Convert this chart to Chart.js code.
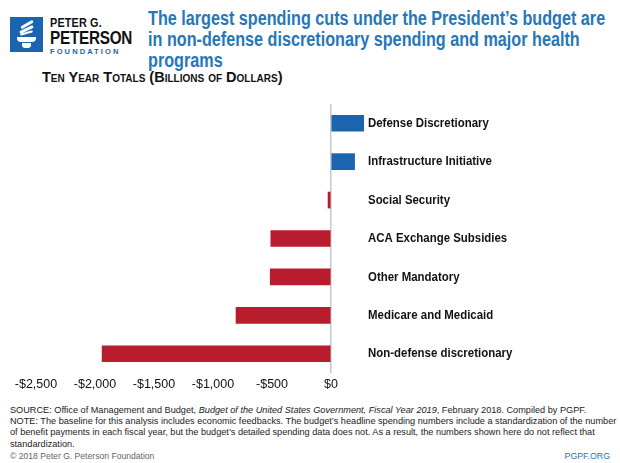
<!DOCTYPE html>
<html><head><meta charset="utf-8">
<script src="https://cdn.jsdelivr.net/npm/chart.js@4"></script>
<style>
html,body{margin:0;padding:0;background:#fff;}
body{width:620px;height:463px;position:relative;overflow:hidden;font-family:"Liberation Sans",Arial,sans-serif;}
#logo{position:absolute;left:10px;top:17px;width:33px;height:35px;background:#1a64b0;}
#logo .cup{position:absolute;left:7px;top:20px;width:19px;height:5px;background:#fff;border-radius:0 0 4px 4px;}
#logo .stem{position:absolute;left:12px;top:26px;width:9px;height:5px;background:#fff;border-radius:0 0 3px 3px;}
#logo .f1{position:absolute;left:10px;top:6px;width:14px;height:3px;background:#fff;transform:rotate(-30deg);border-radius:2px;}
#logo .f2{position:absolute;left:9px;top:11px;width:15px;height:3px;background:#fff;transform:rotate(-25deg);border-radius:2px;}
#logo .f3{position:absolute;left:10px;top:15px;width:13px;height:2px;background:#fff;transform:rotate(-15deg);border-radius:2px;}
.lt{position:absolute;left:50px;font-family:"Liberation Sans",Arial,sans-serif;font-weight:bold;color:#111;white-space:nowrap;transform-origin:left top;}
#l1{top:16px;font-size:12px;letter-spacing:0.2px;transform:scaleX(0.9);}
#l2{top:28px;font-size:18px;letter-spacing:-0.3px;transform:scaleX(0.85);}
#l3{top:47px;font-size:7.5px;color:#1a64b0;letter-spacing:2.1px;}
#title{position:absolute;left:148px;top:8px;white-space:nowrap;font-family:"Liberation Sans",sans-serif;font-weight:bold;font-size:19.5px;line-height:21px;color:#2677b8;transform:scaleX(0.83);transform-origin:left top;}
#sub{position:absolute;left:42px;top:69px;white-space:nowrap;font-family:"Liberation Sans",sans-serif;font-weight:bold;font-size:14.5px;color:#111;font-variant:small-caps;}
#wrap{position:absolute;left:0;top:95px;width:620px;height:301px;}
#foot{position:absolute;left:10px;top:405px;width:620px;white-space:nowrap;font-family:"Liberation Sans",Arial,sans-serif;font-size:9.3px;line-height:11.2px;color:#222;transform:scaleX(0.985);transform-origin:left top;}
#copy{position:absolute;left:10px;top:451px;font-size:8.6px;color:#666;font-family:"Liberation Sans",Arial,sans-serif;}
#url{position:absolute;right:10px;top:451px;font-size:8.8px;color:#2677b8;font-family:"Liberation Sans",Arial,sans-serif;}
</style></head>
<body>
<div id="logo"><div class="f1"></div><div class="f2"></div><div class="f3"></div><div class="cup"></div><div class="stem"></div></div>
<div class="lt" id="l1">PETER G.</div>
<div class="lt" id="l2">PETERSON</div>
<div class="lt" id="l3">FOUNDATION</div>
<div id="title">The largest spending cuts under the President’s budget are<br>in non-defense discretionary spending and major health<br>programs</div>
<div id="sub">Ten Year Totals (Billions of Dollars)</div>
<div id="wrap"><canvas id="c" width="620" height="301"></canvas></div>
<div id="foot">SOURCE: Office of Management and Budget, <i>Budget of the United States Government, Fiscal Year 2019</i>, February 2018. Compiled by PGPF.<br>NOTE: The baseline for this analysis includes economic feedbacks. The budget’s headline spending numbers include a standardization of the number<br>of benefit payments in each fiscal year, but the budget’s detailed spending data does not. As a result, the numbers shown here do not reflect that<br>standardization.</div>
<div id="copy">© 2018 Peter G. Peterson Foundation</div>
<div id="url">PGPF.ORG</div>
<script>
const categories = ["Defense Discretionary","Infrastructure Initiative","Social Security","ACA Exchange Subsidies","Other Mandatory","Medicare and Medicaid","Non-defense discretionary"];
const values = [277, 200, -25, -510, -515, -805, -1940];
const tickValues = [-2500,-2000,-1500,-1000,-500,0];
const tickLabels = ["-$2,500","-$2,000","-$1,500","-$1,000","-$500","$0"];
const BLUE = "#1a64b0", RED = "#b91c2c";

const labelPlugin = {
  id: 'catLabels',
  afterDatasetsDraw(chart){
    const ctx = chart.ctx, xs = chart.scales.x, ys = chart.scales.y;
    const x0 = xs.getPixelForValue(0) + 37;
    ctx.save();
    ctx.font = 'bold 13px "Liberation Sans", sans-serif';
    ctx.fillStyle = '#111';
    ctx.textBaseline = 'middle';
    ctx.textAlign = 'left';
    categories.forEach((c,i)=>{
      ctx.save();
      ctx.translate(x0, ys.getPixelForValue(i));
      ctx.scale(0.88, 1);
      ctx.fillText(c, 0, 0);
      ctx.restore();
    });
    ctx.restore();
  }
};

new Chart(document.getElementById('c'), {
  type: 'bar',
  data: { labels: categories, datasets: [{ data: values, backgroundColor: values.map(v=>v>=0?BLUE:RED), barThickness: 16 }] },
  options: {
    indexAxis: 'y', responsive: false, animation: false,
    layout: { padding: { left: 36, right: 112, top: 9, bottom: 0 } },
    plugins: { legend: { display: false }, tooltip: { enabled: false } },
    scales: {
      x: {
        min: -2500, max: 1500,
        afterBuildTicks(s){ s.ticks = tickValues.map(v=>({value:v})); },
        ticks: { callback: (v)=>{ const i = tickValues.indexOf(v); return i>=0 ? tickLabels[i] : ''; }, color:'#111', font:{ family:'"Liberation Sans", sans-serif', size: 12.5 }, padding: 4, maxRotation: 0, autoSkip: false },
        grid: { color: ctx => (ctx.tick && ctx.tick.value === 0) ? '#c8c8c8' : 'rgba(0,0,0,0)', drawTicks: false, lineWidth: 1.5 },
        border: { display: false }
      },
      y: { display: false, grid: { display: false } }
    }
  },
  plugins: [labelPlugin]
});
</script>
</body></html>
